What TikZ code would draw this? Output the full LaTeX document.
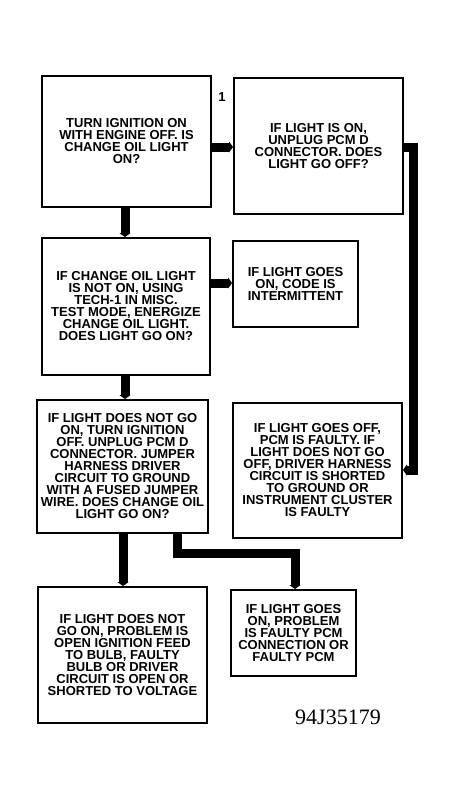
\documentclass[tikz,border=0pt]{standalone}
\usepackage{fontspec}
\setmainfont{Liberation Sans}
\newfontfamily\labelfont{Liberation Serif}
\usetikzlibrary{arrows.meta}
\tikzset{
  box/.style={draw, line width=2pt, inner sep=0pt, align=center,
    font=\fontsize{13}{12}\selectfont\bfseries},
  conn/.style={line width=9pt, line join=miter, line cap=butt,
    -{Triangle[length=4pt,width=11pt]}},
}
\begin{document}
\begin{tikzpicture}[x=1pt,y=-1pt]
\useasboundingbox[fill=white] (0,0) rectangle (456,801);

\node[box, minimum width=169pt, minimum height=131pt] (A) at (126.5,141.5)
  {TURN IGNITION ON\\WITH ENGINE OFF. IS\\CHANGE OIL LIGHT\\ON?};
\node[box, minimum width=169pt, minimum height=136pt] (B) at (318.5,146)
  {IF LIGHT IS ON,\\UNPLUG PCM D\\CONNECTOR. DOES\\LIGHT GO OFF?};
\node[box, minimum width=168pt, minimum height=137pt] (C) at (126,306.5)
  {IF CHANGE OIL LIGHT\\IS NOT ON, USING\\TECH-1 IN MISC.\\TEST MODE, ENERGIZE\\CHANGE OIL LIGHT.\\DOES LIGHT GO ON?};
\node[box, minimum width=125pt, minimum height=86pt] (D) at (295.5,284)
  {IF LIGHT GOES\\ON, CODE IS\\INTERMITTENT};
\node[box, minimum width=171pt, minimum height=133pt] (E) at (122.5,466.5)
  {IF LIGHT DOES NOT GO\\ON, TURN IGNITION\\OFF. UNPLUG PCM D\\CONNECTOR. JUMPER\\HARNESS DRIVER\\CIRCUIT TO GROUND\\WITH A FUSED JUMPER\\WIRE. DOES CHANGE OIL\\LIGHT GO ON?};
\node[box, minimum width=169pt, minimum height=135pt] (F) at (317.5,470.5)
  {IF LIGHT GOES OFF,\\PCM IS FAULTY. IF\\LIGHT DOES NOT GO\\OFF, DRIVER HARNESS\\CIRCUIT IS SHORTED\\TO GROUND OR\\INSTRUMENT CLUSTER\\IS FAULTY};
\node[box, minimum width=169pt, minimum height=136pt] (G) at (122.5,655)
  {IF LIGHT DOES NOT\\GO ON, PROBLEM IS\\OPEN IGNITION FEED\\TO BULB, FAULTY\\BULB OR DRIVER\\CIRCUIT IS OPEN OR\\SHORTED TO VOLTAGE};
\node[box, minimum width=125pt, minimum height=86pt] (H) at (293.5,633)
  {IF LIGHT GOES\\ON, PROBLEM\\IS FAULTY PCM\\CONNECTION OR\\FAULTY PCM};

\node[font=\fontsize{13}{13}\selectfont\bfseries] (one) at (222,97) {1};
\node[font=\labelfont\fontsize{22}{22}\selectfont] (code) at (338,717) {94J35179};

% bend coordinates
\coordinate (yAB) at (0,147);
\coordinate (xAC) at (125,0);
\coordinate (yCD) at (283,283);
\coordinate (bf1) at (413,147);
\coordinate (bf2) at (413,470);
\coordinate (xEG) at (123,0);
\coordinate (eh1) at (177,553);
\coordinate (eh2) at (295,553);

\draw[conn] (A.east |- yAB) -- (B.west |- yAB);
\draw[conn] (A.south -| xAC) -- (C.north -| xAC);
\draw[conn] (C.east |- yCD) -- (D.west |- yCD);
\draw[conn] (C.south -| xAC) -- (E.north -| xAC);
\draw[conn] (B.east |- bf1) -- (bf1) -- (bf2) -- (F.east |- bf2);
\draw[conn] (E.south -| xEG) -- (G.north -| xEG);
\draw[conn] (E.south -| eh1) -- (eh1) -- (eh2) -- (H.north -| eh2);
\end{tikzpicture}
\end{document}
